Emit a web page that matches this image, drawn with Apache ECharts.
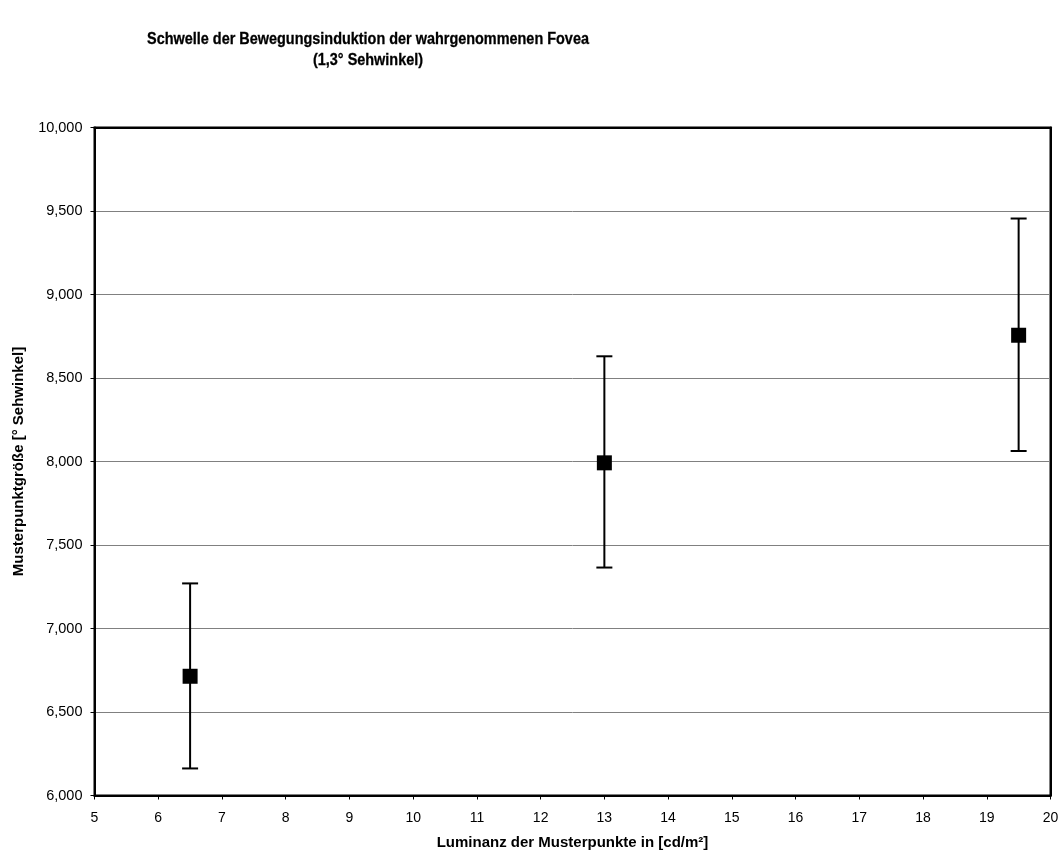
<!DOCTYPE html>
<html>
<head>
<meta charset="utf-8">
<script src="https://cdn.jsdelivr.net/npm/echarts@6/dist/echarts.min.js"></script>
<style>
  html, body { margin: 0; padding: 0; background: #fff; }
  #chart { width: 1061px; height: 855px; }
</style>
</head>
<body>
<div id="chart"></div>
<script>
// Luminance of the pattern dots (cd/m²)
const luminance = [6.5, 13, 19.5];
// Mean dot size (° visual angle)
const meanSize = [6714, 7992, 8756];
// Lower and upper error-bar limits
const errLow = [6162, 7365, 8063];
const errHigh = [7270, 8630, 9455];

const yTicks = { min: 6000, max: 10000, step: 500 };
const xTicks = { min: 5, max: 20, step: 1 };

const titleLines = [
  'Schwelle der Bewegungsinduktion der wahrgenommenen Fovea',
  '(1,3° Sehwinkel)'
];

const FONT = '"Liberation Sans", Arial, sans-serif';

const chart = echarts.init(document.getElementById('chart'), null, { renderer: 'canvas' });

const fmt = v => v.toLocaleString('en-US');

// plain black frame line used for the top and right edges of the plot
const frameAxis = {
  axisLine: { show: true, onZero: false, lineStyle: { color: '#000', width: 2 } },
  axisTick: { show: false },
  axisLabel: { show: false },
  splitLine: { show: false }
};

// two-line bold title, drawn slightly condensed
const titleGraphic = titleLines.map((t, i) => ({
  type: 'text',
  x: 368,
  y: 39 + i * 21,
  scaleX: 0.86,
  style: {
    text: t,
    fill: '#000',
    stroke: '#000',
    lineWidth: 0.3,
    font: 'bold 16.8px ' + FONT,
    textAlign: 'center',
    textVerticalAlign: 'middle'
  }
}));

chart.setOption({
  animation: false,
  backgroundColor: '#fff',
  graphic: titleGraphic,
  grid: {
    left: 94.5, right: 10.5, top: 127.5, bottom: 59.5,
    outerBoundsMode: 'none',
    containLabel: false,
    show: true, borderColor: '#000', borderWidth: 2, backgroundColor: 'transparent'
  },
  xAxis: [{
    type: 'value',
    min: xTicks.min, max: xTicks.max, interval: xTicks.step,
    name: 'Luminanz der Musterpunkte in [cd/m²]',
    nameLocation: 'middle',
    nameGap: 40,
    nameTextStyle: { fontFamily: FONT, fontSize: 15, fontWeight: 'bold', color: '#000' },
    axisLine: { show: true, onZero: false, lineStyle: { color: '#000', width: 2 } },
    axisTick: { show: true, length: 4, lineStyle: { color: '#000', width: 1 } },
    axisLabel: { fontFamily: FONT, fontSize: 14, color: '#000', margin: 16 },
    splitLine: { show: false }
  }, Object.assign({
    type: 'value', position: 'top',
    min: xTicks.min, max: xTicks.max, interval: xTicks.step
  }, frameAxis)],
  yAxis: [{
    type: 'value',
    min: yTicks.min, max: yTicks.max, interval: yTicks.step,
    name: 'Musterpunktgröße [° Sehwinkel]',
    nameLocation: 'middle',
    nameGap: 68,
    nameTextStyle: { fontFamily: FONT, fontSize: 15, fontWeight: 'bold', color: '#000' },
    axisLine: { show: true, onZero: false, lineStyle: { color: '#000', width: 2 } },
    axisTick: { show: true, length: 4, lineStyle: { color: '#000', width: 1 } },
    axisLabel: { fontFamily: FONT, fontSize: 14.5, color: '#000', margin: 12, formatter: fmt },
    splitLine: { show: true, lineStyle: { color: '#808080', width: 1 } }
  }, Object.assign({
    type: 'value', position: 'right',
    min: yTicks.min, max: yTicks.max, interval: yTicks.step
  }, frameAxis)],
  series: [
    {
      type: 'custom',
      name: 'Fehlerbalken',
      data: luminance.map((x, i) => [x, errLow[i], errHigh[i]]),
      renderItem: function (params, api) {
        const lo = api.coord([api.value(0), api.value(1)]);
        const hi = api.coord([api.value(0), api.value(2)]);
        const cap = 8;
        const style = { stroke: '#000', lineWidth: 2 };
        return {
          type: 'group',
          children: [
            { type: 'line', shape: { x1: lo[0], y1: lo[1], x2: hi[0], y2: hi[1] }, style },
            { type: 'line', shape: { x1: hi[0] - cap, y1: hi[1], x2: hi[0] + cap, y2: hi[1] }, style },
            { type: 'line', shape: { x1: lo[0] - cap, y1: lo[1], x2: lo[0] + cap, y2: lo[1] }, style }
          ]
        };
      },
      z: 2
    },
    {
      type: 'scatter',
      name: 'Mittelwert',
      data: luminance.map((x, i) => [x, meanSize[i]]),
      symbol: 'rect',
      symbolSize: 15,
      itemStyle: { color: '#000', opacity: 1 },
      z: 3
    }
  ]
});
</script>
</body>
</html>
